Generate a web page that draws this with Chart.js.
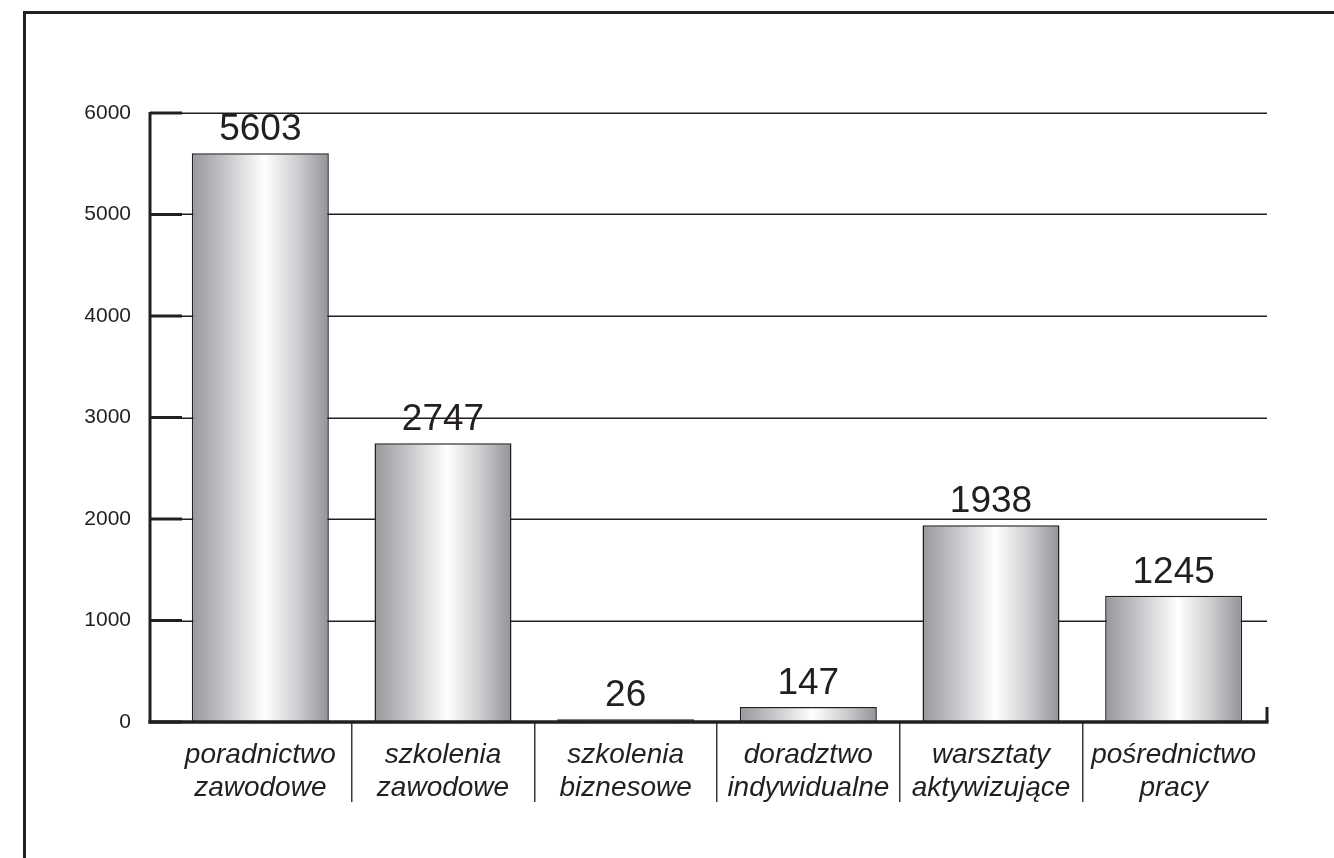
<!DOCTYPE html>
<html>
<head>
<meta charset="utf-8">
<script src="https://cdn.jsdelivr.net/npm/chart.js@4/dist/chart.umd.min.js"></script>
<style>
  html, body { margin: 0; padding: 0; background: #fff; }
  #wrap { position: relative; width: 1334px; height: 858px; overflow: hidden; }
  #frame { position: absolute; left: 23px; top: 11px; width: 1400px; height: 900px;
           border-left: 3px solid #231f20; border-top: 3px solid #231f20; }
  canvas { position: absolute; left: 0; top: 0; }
</style>
</head>
<body>
<div id="wrap">
  <div id="frame"></div>
  <canvas id="wykres" width="1334" height="858"></canvas>
</div>
<script>
// dane z wykresu
const kategorie = [
  ['poradnictwo', 'zawodowe'],
  ['szkolenia', 'zawodowe'],
  ['szkolenia', 'biznesowe'],
  ['doradztwo', 'indywidualne'],
  ['warsztaty', 'aktywizujące'],
  ['pośrednictwo', 'pracy']
];
const wartosci = [5603, 2747, 26, 147, 1938, 1245];
const osY = [0, 1000, 2000, 3000, 4000, 5000, 6000];

const CZARNY = '#231f20';
const FONT = '"Liberation Sans", Arial, Helvetica, sans-serif';
const SZER_SLUPKA = 0.75;

// gradient srebrny na slupku
function gradientSlupka(c) {
  const chart = c.chart;
  const xs = chart.scales.x;
  if (!chart.chartArea || !xs || c.dataIndex === undefined) return '#c0c1c4';
  const cx = xs.getPixelForValue(c.dataIndex);
  const half = xs.width / kategorie.length * SZER_SLUPKA / 2;
  const g = chart.ctx.createLinearGradient(cx - half, 0, cx + half, 0);
  g.addColorStop(0, '#97989c');
  g.addColorStop(0.25, '#c6c7ca');
  g.addColorStop(0.53, '#ffffff');
  g.addColorStop(0.78, '#cbccce');
  g.addColorStop(1, '#929398');
  return g;
}

// osie, linie siatki i etykiety wartosci
const osiePlugin = {
  id: 'osie',
  beforeDatasetsDraw(chart) {
    const { ctx, chartArea, scales: { y } } = chart;
    const x0 = chartArea.left - 19, x1 = chartArea.right + 2;
    ctx.save();
    ctx.strokeStyle = CZARNY;
    ctx.lineWidth = 1.5;
    osY.forEach(v => {
      const yy = Math.round(y.getPixelForValue(v)) + 0.25;
      ctx.beginPath(); ctx.moveTo(x0, yy); ctx.lineTo(x1, yy); ctx.stroke();
    });
    ctx.restore();
  },
  afterDatasetsDraw(chart) {
    const { ctx, chartArea, scales: { y } } = chart;
    const x0 = chartArea.left - 19, x1 = chartArea.right + 2;
    const dol = y.getPixelForValue(0);
    ctx.save();
    ctx.strokeStyle = CZARNY;
    ctx.lineWidth = 3;
    ctx.beginPath(); ctx.moveTo(x0, y.getPixelForValue(6000) - 1); ctx.lineTo(x0, dol + 1.5); ctx.stroke();
    osY.forEach(v => {
      const yy = y.getPixelForValue(v);
      ctx.beginPath(); ctx.moveTo(x0, yy); ctx.lineTo(x0 + 32, yy); ctx.stroke();
    });
    ctx.lineWidth = 3.5;
    ctx.beginPath(); ctx.moveTo(x0 - 1.5, dol); ctx.lineTo(x1 + 1.5, dol); ctx.stroke();
    ctx.lineWidth = 3;
    ctx.beginPath(); ctx.moveTo(x1, dol - 15); ctx.lineTo(x1, dol); ctx.stroke();

    ctx.fillStyle = CZARNY;
    ctx.font = '37px ' + FONT;
    ctx.textAlign = 'center';
    ctx.textBaseline = 'alphabetic';
    chart.getDatasetMeta(0).data.forEach((bar, i) => {
      ctx.fillText(String(wartosci[i]), bar.x, bar.y - 13);
    });
    ctx.restore();
  }
};

new Chart(document.getElementById('wykres'), {
  type: 'bar',
  data: {
    labels: kategorie,
    datasets: [{
      data: wartosci,
      backgroundColor: gradientSlupka,
      borderColor: CZARNY,
      borderWidth: 1.5,
      categoryPercentage: 1,
      barPercentage: SZER_SLUPKA
    }]
  },
  options: {
    responsive: false,
    animation: false,
    events: [],
    layout: { padding: { top: 113, right: 69, left: 0, bottom: 0 } },
    plugins: { legend: { display: false }, tooltip: { enabled: false } },
    scales: {
      x: {
        border: { display: false },
        grid: {
          offset: true,
          drawOnChartArea: false,
          drawTicks: true,
          tickLength: 80,
          lineWidth: 1.5,
          color: c => (c.index > 0 ? '#3a3a3a' : 'transparent'),
          tickColor: c => (c.index > 0 ? '#3a3a3a' : 'transparent')
        },
        ticks: {
          color: CZARNY,
          padding: -63,
          maxRotation: 0,
          autoSkip: false,
          font: { family: FONT, size: 28, style: 'italic', lineHeight: 1.18 }
        },
        afterFit(s) { s.height = 136; }
      },
      y: {
        min: 0,
        max: 6000,
        border: { display: false },
        grid: { display: false, drawTicks: false },
        ticks: {
          stepSize: 1000,
          color: CZARNY,
          padding: 38,
          font: { family: FONT, size: 21 },
          callback: v => String(v)
        },
        afterFit(s) { s.width = 169; }
      }
    }
  },
  plugins: [osiePlugin]
});
</script>
</body>
</html>
